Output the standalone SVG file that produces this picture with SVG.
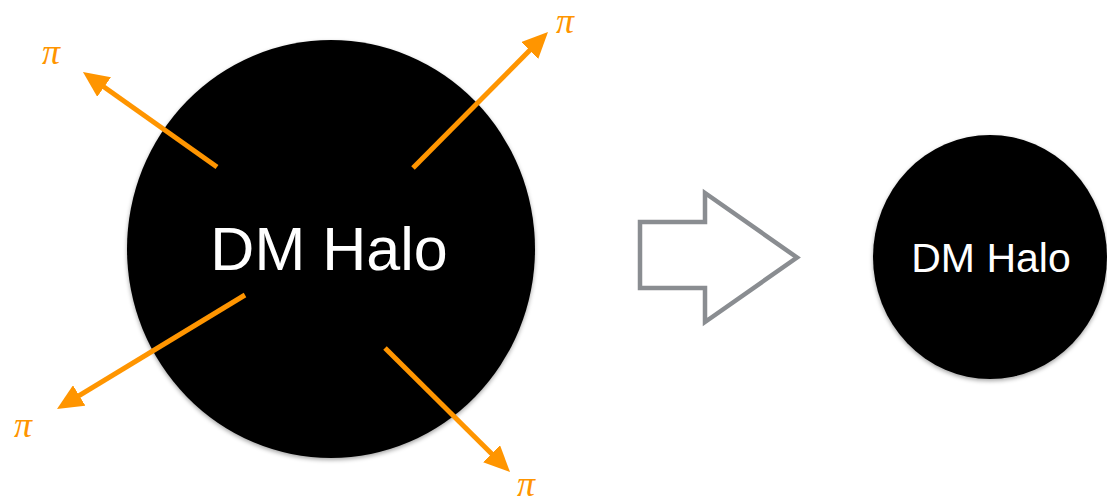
<svg xmlns="http://www.w3.org/2000/svg" width="1107" height="502" viewBox="0 0 1107 502">
  <style>
    .halo { fill: #000000; filter: url(#shadow); }
    .label { fill: #ffffff; font-family: "Liberation Sans", Arial, sans-serif; text-anchor: middle; }
    .pion { stroke: #FF9500; stroke-width: 5; fill: none; marker-end: url(#head); }
    .pi { fill: #FF9500; font-family: "Liberation Serif", "Times New Roman", serif; font-style: italic; font-size: 36px; }
    .big-arrow { fill: #ffffff; stroke: #8A8D91; stroke-width: 4.5; stroke-linejoin: miter; }
  </style>
  <defs>
    <filter id="shadow" x="-10%" y="-10%" width="120%" height="125%">
      <feDropShadow dx="0" dy="2" stdDeviation="2" flood-color="#000" flood-opacity="0.35"/>
    </filter>
    <marker id="head" viewBox="0 0 26 24" markerUnits="userSpaceOnUse" markerWidth="26" markerHeight="24" refX="4" refY="12" orient="auto">
      <path d="M0,0 L26,12 L0,24 Z" fill="#FF9500"/>
    </marker>
  </defs>

  <g id="halo-large">
    <ellipse class="halo" cx="331" cy="249" rx="204" ry="209"/>
    <text class="label" x="329" y="270" font-size="61">DM Halo</text>
  </g>

  <g id="halo-small">
    <ellipse class="halo" cx="990" cy="257" rx="117" ry="122"/>
    <text class="label" x="991" y="272" font-size="41">DM Halo</text>
  </g>

  <g id="transition-arrow">
    <path class="big-arrow" d="M640,222 H705 V193 L797,257.5 L705,322 V288 H640 Z"/>
  </g>

  <g id="connectors">
    <line class="pion" x1="217" y1="167" x2="100.9" y2="84.7"/>
    <line class="pion" x1="413" y1="168" x2="532.5" y2="47.6"/>
    <line class="pion" x1="245" y1="295" x2="75.8" y2="397.6"/>
    <line class="pion" x1="385" y1="348" x2="494.4" y2="456.5"/>
  </g>

  <g id="pion-labels">
    <text class="pi" x="42" y="64">π</text>
    <text class="pi" x="556" y="33">π</text>
    <text class="pi" x="14" y="437">π</text>
    <text class="pi" x="517" y="496">π</text>
  </g>
</svg>
